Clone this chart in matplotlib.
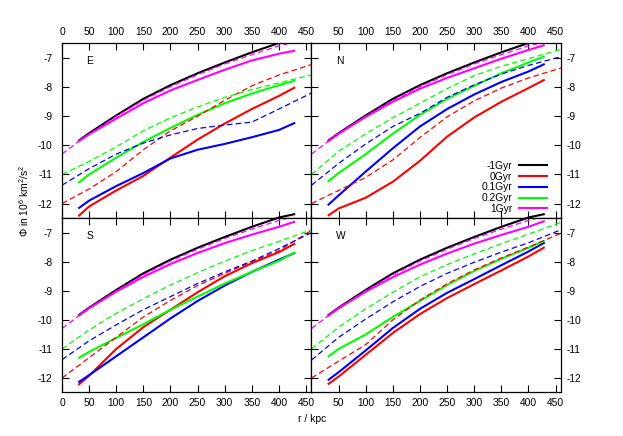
import matplotlib
matplotlib.use("Agg")
import matplotlib.pyplot as plt

plt.rcParams['font.family'] = ['Liberation Sans', 'DejaVu Sans']
plt.rcParams['axes.unicode_minus'] = False
plt.rcParams['mathtext.fontset'] = 'custom'
plt.rcParams['mathtext.rm'] = 'Liberation Sans'

# ---------------- data ----------------
r_solid = [30, 50, 100, 150, 200, 250, 300, 350, 400, 430]
r_dash = [0, 50, 100, 150, 200, 250, 300, 350, 400, 460]

labels = ['-1Gyr', '0Gyr', '0.1Gyr', '0.2Gyr', '1Gyr']
colors = ['#000000', '#ff0000', '#0000ff', '#00ff00', '#ff00ff']
panels = ['E', 'N', 'S', 'W']

# -1Gyr (same in every panel)
black_solid = [-9.85, -9.58, -8.97, -8.4, -7.93, -7.52, -7.15, -6.8, -6.48, -6.36]
# dashed magenta (same in every panel)
r_mag_dash = [0, 30, 50, 100, 150, 200, 250, 300, 350, 400, 460]
mag_dash = [-10.3, -9.87, -9.62, -9.0, -8.45, -7.98, -7.57, -7.2, -6.88, -6.58, -6.3]

# solid curves per panel: 0Gyr, 0.1Gyr, 0.2Gyr, 1Gyr
E_red = [-12.44, -12.1, -11.55, -11.05, -10.42, -9.8, -9.25, -8.75, -8.3, -8.0]
E_blue = [-12.17, -11.9, -11.4, -10.95, -10.45, -10.15, -9.95, -9.72, -9.47, -9.22]
E_green = [-11.29, -11.0, -10.42, -9.88, -9.4, -8.95, -8.55, -8.22, -7.93, -7.77]
E_mag = [-9.87, -9.62, -9.08, -8.55, -8.11, -7.75, -7.4, -7.08, -6.85, -6.74]

N_red = [-12.42, -12.17, -11.8, -11.25, -10.53, -9.7, -9.04, -8.5, -8.03, -7.74]
N_blue = [-12.06, -11.72, -10.9, -10.1, -9.35, -8.75, -8.25, -7.82, -7.46, -7.2]
N_green = [-11.25, -10.95, -10.3, -9.6, -8.95, -8.4, -7.95, -7.52, -7.15, -6.94]
N_mag = [-9.87, -9.6, -9.02, -8.5, -8.05, -7.68, -7.35, -7.02, -6.72, -6.55]

S_red = [-12.24, -11.92, -11.0, -10.25, -9.65, -9.05, -8.5, -8.05, -7.67, -7.37]
S_blue = [-12.15, -11.9, -11.25, -10.6, -9.95, -9.35, -8.82, -8.35, -7.93, -7.69]
S_green = [-11.32, -11.1, -10.62, -10.15, -9.65, -9.2, -8.75, -8.35, -7.97, -7.67]
S_mag = [-9.87, -9.6, -9.03, -8.52, -8.08, -7.7, -7.36, -7.07, -6.8, -6.62]

W_red = [-12.22, -11.95, -11.2, -10.45, -9.8, -9.25, -8.77, -8.3, -7.82, -7.5]
W_blue = [-12.08, -11.8, -11.05, -10.28, -9.62, -9.07, -8.6, -8.12, -7.65, -7.34]
W_green = [-11.27, -11.0, -10.5, -9.9, -9.35, -8.8, -8.32, -7.9, -7.52, -7.27]
W_mag = [-9.87, -9.6, -9.03, -8.53, -8.1, -7.72, -7.38, -7.08, -6.8, -6.6]

# dashed curves per panel: red, blue, green
E_red_d = [-12.0, -11.5, -10.9, -10.15, -9.5, -9.0, -8.45, -7.95, -7.58, -7.22]
E_blue_d = [-11.37, -10.8, -10.3, -9.92, -9.64, -9.42, -9.3, -9.2, -8.75, -8.2]
E_green_d = [-11.0, -10.55, -10.05, -9.5, -9.05, -8.68, -8.35, -8.08, -7.85, -7.58]

N_red_d = [-12.0, -11.55, -11.1, -10.5, -9.73, -9.02, -8.47, -8.03, -7.68, -7.34]
N_blue_d = [-11.37, -10.62, -9.95, -9.35, -8.9, -8.35, -7.92, -7.55, -7.25, -6.95]
N_green_d = [-11.0, -10.2, -9.6, -9.05, -8.55, -8.05, -7.6, -7.28, -7.02, -6.7]

S_red_d = [-12.0, -11.3, -10.6, -9.9, -9.33, -8.82, -8.4, -8.0, -7.62, -6.92]
S_blue_d = [-11.37, -10.72, -10.17, -9.65, -9.2, -8.75, -8.35, -7.98, -7.55, -7.0]
S_green_d = [-11.0, -10.35, -9.77, -9.27, -8.8, -8.38, -7.98, -7.62, -7.3, -6.9]

W_red_d = [-12.0, -11.42, -10.85, -10.0, -9.32, -8.76, -8.28, -7.87, -7.5, -7.02]
W_blue_d = [-11.38, -10.6, -9.97, -9.38, -8.85, -8.4, -8.02, -7.67, -7.35, -6.9]
W_green_d = [-11.0, -10.25, -9.62, -9.05, -8.52, -8.1, -7.73, -7.38, -7.05, -6.65]

solid_data = {
    'E': [black_solid, E_red, E_blue, E_green, E_mag],
    'N': [black_solid, N_red, N_blue, N_green, N_mag],
    'S': [black_solid, S_red, S_blue, S_green, S_mag],
    'W': [black_solid, W_red, W_blue, W_green, W_mag],
}
dash_data = {
    'E': [E_red_d, E_blue_d, E_green_d],
    'N': [N_red_d, N_blue_d, N_green_d],
    'S': [S_red_d, S_blue_d, S_green_d],
    'W': [W_red_d, W_blue_d, W_green_d],
}

xticks_left = [0, 50, 100, 150, 200, 250, 300, 350, 400, 450]
xticks_right = [50, 100, 150, 200, 250, 300, 350, 400, 450]
yticks = [-7, -8, -9, -10, -11, -12]

# ---------------- figure ----------------
W_px, H_px = 623, 436
fig = plt.figure(figsize=(W_px / 100, H_px / 100), dpi=100)
left, right, top, bottom = 62 / W_px, 561 / W_px, 1 - 43 / H_px, 1 - 392 / H_px
gs = fig.add_gridspec(2, 2, left=left, right=right, top=top, bottom=bottom,
                      wspace=0, hspace=0)

fs = 7.4
for i, name in enumerate(panels):
    row, col = divmod(i, 2)
    ax = fig.add_subplot(gs[row, col])
    unclipped = (row == 1)
    sol = solid_data[name]
    for k in range(5):
        ax.plot(r_solid, sol[k], color=colors[k], lw=1.5, solid_capstyle='butt',
                label=labels[k], clip_on=not unclipped)
    dsh = dash_data[name]
    for k in range(3):
        ax.plot(r_dash, dsh[k], color=colors[k + 1], lw=0.9, dashes=(4.5, 2.6))
    ax.plot(r_mag_dash, mag_dash, color=colors[4], lw=0.9, dashes=(4.5, 2.6))

    ax.set_xlim(0, 460)
    ax.set_ylim(-12.48, -6.48)
    ax.set_xticks(xticks_left if col == 0 else xticks_right)
    ax.set_yticks(yticks)
    ax.tick_params(direction='in', length=5, width=0.8, top=True, bottom=True,
                   left=True, right=True, labelsize=fs)
    ax.tick_params(axis='x', labeltop=(row == 0), labelbottom=(row == 1), pad=4)
    ax.tick_params(axis='y', labelleft=(col == 0), labelright=(col == 1))
    if col == 0:
        ax.tick_params(axis='y', pad=7)
    else:
        ax.tick_params(axis='y', pad=4)
    for s in ax.spines.values():
        s.set_linewidth(0.9)
        s.set_color('black')
    ax.text(45, -7.1, name, ha='left', va='center', fontsize=fs)
    if name == 'N':
        ax.legend(loc='lower right', bbox_to_anchor=(0.948, 0.02), frameon=False,
                  markerfirst=False, fontsize=fs, handlelength=2.9,
                  handletextpad=0.6, labelspacing=0.08, borderpad=0,
                  borderaxespad=0)

fig.text(24 / W_px, 1 - 201 / H_px, r'$\Phi$ in 10$^6$ km$^2$/s$^2$', rotation=90,
         ha='center', va='center', fontsize=fs)
fig.text(311.7 / W_px, 1 - 419 / H_px, 'r / kpc', ha='center', va='center',
         fontsize=fs)

fig.savefig('out.png', dpi=100)
